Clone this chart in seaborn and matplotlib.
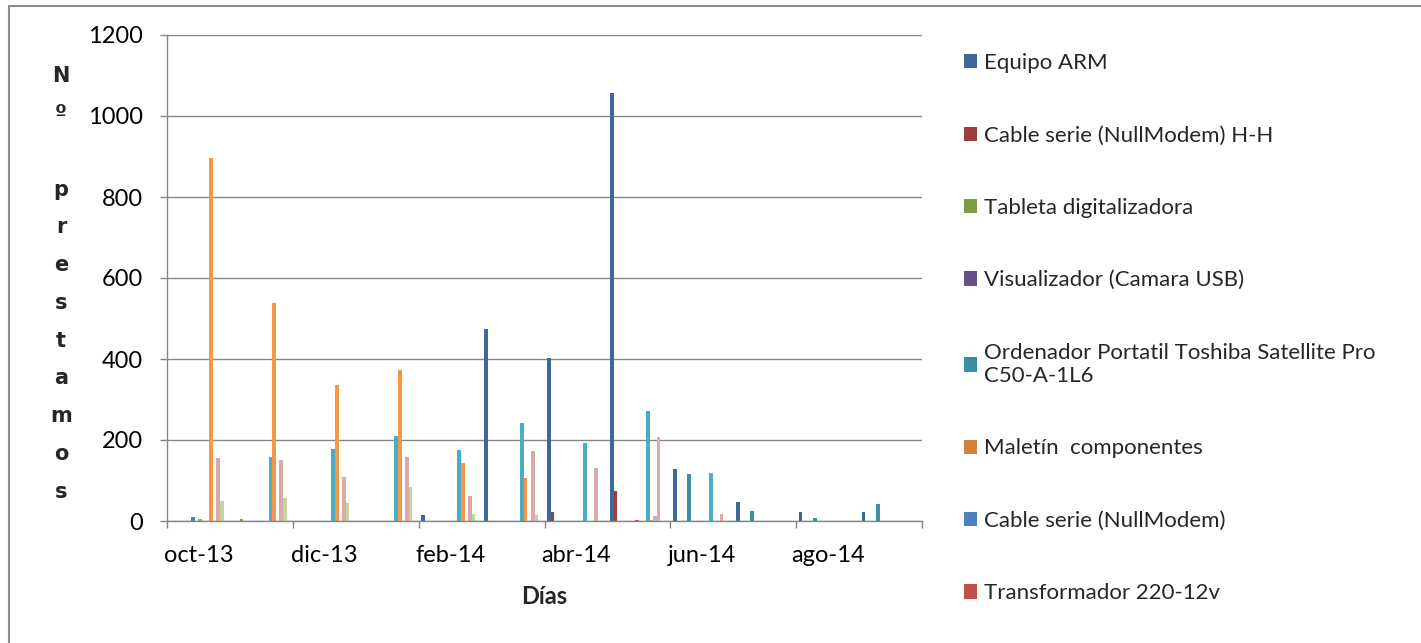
import textwrap
import pandas as pd
import seaborn as sns
import matplotlib.pyplot as plt
from matplotlib.patches import Patch, Rectangle

# months on the x axis (one cluster of bars per month)
meses = ["oct-13", "nov-13", "dic-13", "ene-14", "feb-14", "mar-14",
         "abr-14", "may-14", "jun-14", "jul-14", "ago-14", "sep-14"]

# prestamos per month, one list per equipment
equipo_arm = [0, 0, 0, 0, 15, 474, 403, 1058, 128, 47, 21, 22]
cable_hh = [0, 0, 0, 0, 0, 0, 22, 74, 0, 0, 0, 0]
tableta = [0, 6, 0, 0, 0, 0, 0, 0, 0, 0, 0, 0]
visualizador = [0, 0, 0, 0, 0, 0, 0, 0, 0, 0, 0, 0]
ordenador = [0, 0, 0, 0, 0, 0, 0, 0, 116, 24, 7, 42]
maletin = [0, 0, 0, 0, 0, 0, 0, 0, 0, 0, 0, 0]
cable_serie = [11, 0, 0, 0, 0, 0, 0, 0, 0, 0, 0, 0]
transformador = [0, 0, 0, 0, 0, 0, 0, 3, 0, 0, 0, 0]
# series that exist in the chart but are cut off from the legend
serie_9 = [4, 0, 0, 0, 0, 0, 0, 0, 0, 0, 0, 0]
serie_10 = [0, 0, 0, 0, 0, 0, 0, 0, 0, 0, 0, 0]
serie_11 = [0, 158, 179, 209, 175, 242, 192, 272, 118, 0, 0, 0]
serie_12 = [897, 539, 335, 373, 142, 105, 0, 2, 0, 0, 0, 0]
serie_13 = [0, 0, 0, 0, 0, 0, 0, 12, 0, 0, 0, 0]
serie_14 = [155, 151, 109, 159, 62, 173, 132, 207, 18, 0, 0, 0]
serie_15 = [49, 56, 44, 84, 18, 15, 0, 0, 0, 0, 0, 0]
serie_16 = [0, 0, 0, 0, 0, 0, 0, 0, 0, 0, 0, 0]

nombres = ["Equipo ARM", "Cable serie (NullModem) H-H", "Tableta digitalizadora",
           "Visualizador (Camara USB)",
           "Ordenador Portatil Toshiba Satellite Pro C50-A-1L6",
           "Maletín  componentes", "Cable serie (NullModem)", "Transformador 220-12v",
           "Serie 9", "Serie 10", "Serie 11", "Serie 12",
           "Serie 13", "Serie 14", "Serie 15", "Serie 16"]
valores = [equipo_arm, cable_hh, tableta, visualizador, ordenador, maletin,
           cable_serie, transformador, serie_9, serie_10, serie_11, serie_12,
           serie_13, serie_14, serie_15, serie_16]
colores = ["#3F6797", "#9E3F3D", "#7D9C47", "#675087", "#3B8FA2", "#D5803A",
           "#4F81BD", "#C0504D", "#9BBB59", "#8064A2", "#4BACC6", "#F79646",
           "#A7B9DE", "#DBA9A8", "#C4D6A0", "#B7A8CC"]

rows = []
for nombre, vals in zip(nombres, valores):
    for mes, v in zip(meses, vals):
        rows.append({"mes": mes, "equipo": nombre, "prestamos": v})
df = pd.DataFrame(rows)

sns.set_theme(style="white")
plt.rcParams['font.family'] = ['Lato', 'DejaVu Sans']

gris = "#868686"
fig = plt.figure(figsize=(14.21, 6.43), dpi=100)
ax = fig.add_axes([167 / 1421, 1 - 521 / 643, 755 / 1421, 486 / 643])

sns.barplot(data=df, x="mes", y="prestamos", hue="equipo", order=meses,
            hue_order=nombres, palette=dict(zip(nombres, colores)),
            width=0.915, saturation=1, errorbar=None, legend=False,
            linewidth=0, ax=ax)

# y axis
ax.set_ylim(0, 1200)
ax.set_yticks(range(0, 1201, 200))
ax.yaxis.grid(True, color=gris, lw=1.0)
ax.set_axisbelow(True)
ax.tick_params(axis='y', which='major', length=5.3, width=1.0, color=gris,
               direction='out', pad=12, labelsize=17, labelcolor='black', left=True)

# x axis: ticks between every two months, labels centred on the month
ax.set_xticks([i - 0.5 for i in range(0, 13, 2)], labels=[""] * 7)
ax.set_xticks(range(0, 12, 2), labels=meses[::2], minor=True)
ax.tick_params(axis='x', which='major', length=5.3, width=1.0, color=gris,
               direction='out', bottom=True)
ax.tick_params(axis='x', which='minor', length=0, pad=17.5, labelsize=17,
               labelcolor='black', bottom=True)
ax.set_xlim(-0.5, 11.5)

for side in ["top", "right"]:
    ax.spines[side].set_visible(False)
for side in ["left", "bottom"]:
    ax.spines[side].set_color(gris)
    ax.spines[side].set_linewidth(1.0)

ax.set_xlabel("Días", fontsize=17, fontweight='bold', va='center')
ax.xaxis.set_label_coords(0.5, -0.156)
ax.set_ylabel("\n".join("Nº prestamos"), rotation=0, fontsize=15, fontweight='bold',
              family=['DejaVu Sans'], linespacing=2.11,
              ha='center', va='center')
ax.yaxis.set_label_coords(-0.1404, 0.4877)

# legend only lists the first eight series, like the original
handles = [Patch(facecolor=c, edgecolor='none', label=textwrap.fill(n, 40))
           for n, c in zip(nombres[:8], colores[:8])]
fig.legend(handles=handles, loc='upper left', bbox_to_anchor=(964 / 1421, 1 - 53 / 643),
           frameon=False, fontsize=16, handlelength=0.6, handleheight=0.6,
           handletextpad=0.3, labelspacing=2.36, borderpad=0, borderaxespad=0)

# chart area border (only top and left fall inside the picture)
fig.patches.append(Rectangle((9 / 1421, -0.05), 1.0, 1 - 6 / 643 + 0.05,
                             transform=fig.transFigure, fill=False,
                             edgecolor="#8c8c8c", lw=1.5))

fig.savefig("out.png", dpi=100)
